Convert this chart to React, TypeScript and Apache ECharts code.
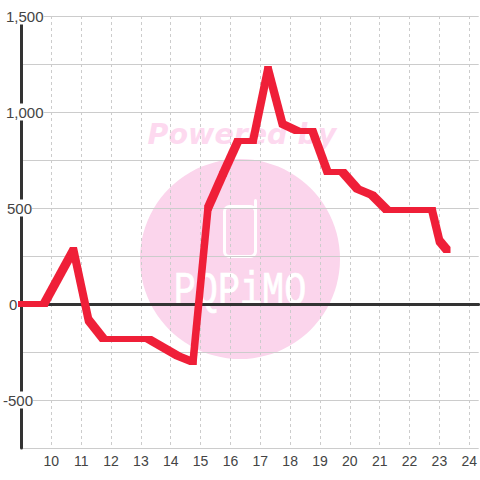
import React, { useEffect, useRef } from "react";
import * as echarts from "echarts";

const hours = [9, 9.75, 10.75, 11.25, 11.75, 12.25, 12.75, 13.25, 14.25, 14.75, 15.25, 15.75, 16.25, 16.75, 17.25, 17.75, 18.25, 18.75, 19.25, 19.75, 20.25, 20.75, 21.25, 21.75, 22.25, 22.75, 23, 23.25];
const values = [0, 0, 282, -85, -180, -180, -180, -180, -270, -300, 500, 675, 850, 850, 1222, 940, 900, 900, 690, 690, 600, 570, 490, 490, 490, 490, 330, 283];
const xMin = 9;
const xMax = 24.3167;
const yMin = -750;
const yMax = 1500;
const labelPad: Record<string, number> = { "1500": 3, "1000": 3, "500": 4, "0": 6, "-500": 0 };
const grey = "#cccccc";
const ink = "#444444";
const red = "#ef1f38";
const penX = 3.5;
const penY = 3;

function hull(pts: number[][]) {
  const s = pts.slice().sort((a, b) => a[0] - b[0] || a[1] - b[1]);
  const cross = (o: number[], a: number[], b: number[]) =>
    (a[0] - o[0]) * (b[1] - o[1]) - (a[1] - o[1]) * (b[0] - o[0]);
  const build = (list: number[][]) => {
    const out: number[][] = [];
    list.forEach((p) => {
      while (out.length >= 2 && cross(out[out.length - 2], out[out.length - 1], p) <= 0) out.pop();
      out.push(p);
    });
    out.pop();
    return out;
  };
  return build(s).concat(build(s.slice().reverse()));
}

function corners(p: number[]) {
  const cx = Math.round(p[0] * 2) / 2;
  const cy = Math.round(p[1]);
  return [
    [cx - penX, cy - penY],
    [cx + penX, cy - penY],
    [cx + penX, cy + penY],
    [cx - penX, cy + penY],
  ];
}

export default function App() {
  const ref = useRef<HTMLDivElement>(null);
  useEffect(() => {
    const chart = echarts.init(ref.current!, undefined, { renderer: "svg" });
    const rich: any = {};
    Object.keys(labelPad).forEach((k) => {
      rich["k" + k.replace("-", "n")] = {
        padding: [1, 0, 1, labelPad[k]],
        backgroundColor: "#ffffff",
        fontSize: 15,
        color: ink,
        fontFamily: "Liberation Sans",
        lineHeight: 15,
      };
    });
    chart.setOption({
      animation: false,
      backgroundColor: "#ffffff",
      grid: { left: 20.5, right: 0, top: 16, bottom: 32, containLabel: false },
      graphic: [
        { type: "circle", z: -2, silent: true, shape: { cx: 240, cy: 259, r: 100 }, style: { fill: "#fbd5ec" } },
        {
          type: "text", z: -2, silent: true, x: 242, y: 134,
          style: { text: "Powered by", fill: "#fdd9ef", font: "italic bold 28.5px 'DejaVu Sans'", textAlign: "center", textVerticalAlign: "middle" },
        },
        { type: "rect", z: -1, silent: true, shape: { x: 224.5, y: 206.5, width: 31, height: 50, r: 5 }, style: { fill: "none", stroke: "#ffffff", lineWidth: 3 } },
        { type: "line", z: -1, silent: true, shape: { x1: 255.5, y1: 200.5, x2: 255.5, y2: 215 }, style: { stroke: "#ffffff", lineWidth: 3, lineCap: "round" } },
        {
          type: "text", z: -1, silent: true, x: 240, y: 292, scaleX: 0.8,
          style: { text: "PQPiMO", fill: "#ffffff", stroke: "#ffffff", lineWidth: 0.7, font: "46px 'Liberation Mono'", textAlign: "center", textVerticalAlign: "middle" },
        },
      ],
      xAxis: [
        {
          type: "value",
          position: "bottom",
          min: xMin,
          max: xMax,
          interval: 1,
          axisLine: { show: false, onZero: false },
          axisTick: { show: false },
          axisLabel: {
            margin: 6,
            fontSize: 14,
            color: ink,
            fontFamily: "Liberation Sans",
            showMinLabel: false,
            showMaxLabel: false,
            formatter: (v: number) => (Number.isInteger(v) && v > xMin ? String(v) : ""),
          },
          splitLine: { show: true, showMaxLine: false, lineStyle: { color: grey, width: 1, type: [3, 3] } },
        },
        {
          type: "value",
          position: "top",
          min: xMin,
          max: xMax,
          interval: 1,
          axisLine: { show: true, onZero: true, lineStyle: { color: "#333333", width: 3 } },
          axisTick: { show: false },
          axisLabel: { show: false },
          splitLine: { show: false },
        },
      ],
      yAxis: {
        type: "value",
        min: yMin,
        max: yMax,
        interval: 250,
        axisLine: { show: true, onZero: false, lineStyle: { color: "#333333", width: 3 } },
        axisTick: { show: false },
        splitLine: { show: true, lineStyle: { color: grey, width: 1 } },
        axisLabel: {
          align: "left",
          margin: 18.5,
          rich,
          formatter: (v: number) => {
            if (v % 500 !== 0) return "";
            return `{k${String(v).replace("-", "n")}|${v.toLocaleString("en-US")}}`;
          },
        },
      },
      series: [
        {
          type: "custom",
          xAxisIndex: 0,
          data: hours.map((h, i) => [h, values[i]]),
          encode: { x: 0, y: 1 },
          z: 5,
          silent: true,
          renderItem: (params: any, api: any) => {
            const i = params.dataIndex;
            if (i >= hours.length - 1) return null;
            const a = api.coord([hours[i], values[i]]);
            const b = api.coord([hours[i + 1], values[i + 1]]);
            return {
              type: "polygon",
              shape: { points: hull(corners(a).concat(corners(b))) },
              style: { fill: red, stroke: "none" },
            };
          },
        },
      ],
    });
    return () => chart.dispose();
  }, []);
  return <div ref={ref} style={{ position: "absolute", left: 0, top: 0, width: 480, height: 480 }} />;
}
